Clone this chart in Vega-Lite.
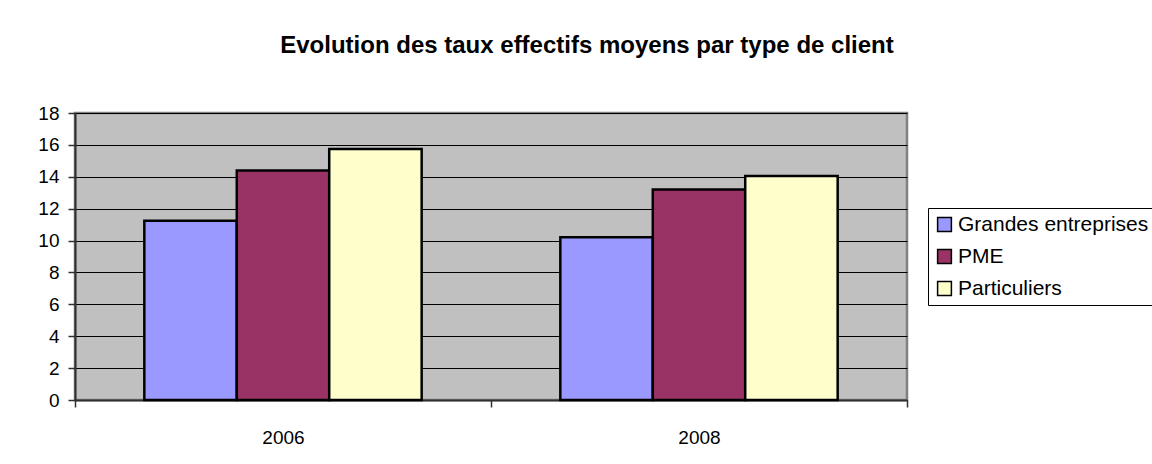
{
  "$schema": "https://vega.github.io/schema/vega-lite/v6.json",
  "width": 832,
  "height": 287,
  "autosize": {"type": "none"},
  "padding": {"left": 75, "top": 113, "right": 245, "bottom": 64},
  "background": "white",
  "title": {
    "text": "Evolution des taux effectifs moyens par type de client",
    "font": "Liberation Sans",
    "fontSize": 24,
    "fontWeight": "bold",
    "color": "#000000",
    "anchor": "middle",
    "frame": "group",
    "dx": 96,
    "offset": 46
  },
  "data": {
    "values": [
      {"annee": "2006", "type": "Grandes entreprises", "taux": 11.25},
      {"annee": "2006", "type": "PME", "taux": 14.4},
      {"annee": "2006", "type": "Particuliers", "taux": 15.75},
      {"annee": "2008", "type": "Grandes entreprises", "taux": 10.2},
      {"annee": "2008", "type": "PME", "taux": 13.2},
      {"annee": "2008", "type": "Particuliers", "taux": 14.05}
    ]
  },
  "mark": {"type": "bar", "stroke": "#000000", "strokeWidth": 2.5},
  "encoding": {
    "x": {
      "field": "annee",
      "type": "nominal",
      "scale": {"paddingInner": 0, "paddingOuter": 0},
      "axis": {
        "title": null,
        "labelAngle": 0,
        "tickBand": "extent",
        "tickSize": 7,
        "tickColor": "#303030",
        "tickWidth": 1.5,
        "labelPadding": 21,
        "labelFont": "Liberation Sans",
        "labelFontSize": 19,
        "labelColor": "#000000",
        "domainColor": "#303030",
        "domainWidth": 2
      }
    },
    "xOffset": {
      "field": "type",
      "type": "nominal",
      "sort": ["Grandes entreprises", "PME", "Particuliers"],
      "scale": {"paddingInner": 0, "paddingOuter": 0.75}
    },
    "y": {
      "field": "taux",
      "type": "quantitative",
      "scale": {"domain": [0, 18], "nice": false},
      "axis": {
        "title": null,
        "values": [0, 2, 4, 6, 8, 10, 12, 14, 16, 18],
        "grid": true,
        "gridColor": "#000000",
        "gridWidth": 1,
        "tickSize": 7,
        "tickColor": "#303030",
        "tickWidth": 1.5,
        "labelPadding": 9,
        "labelFont": "Liberation Sans",
        "labelFontSize": 19,
        "labelColor": "#000000",
        "domainColor": "#303030",
        "domainWidth": 2
      }
    },
    "color": {
      "field": "type",
      "type": "nominal",
      "sort": ["Grandes entreprises", "PME", "Particuliers"],
      "scale": {
        "domain": ["Grandes entreprises", "PME", "Particuliers"],
        "range": ["#9999FF", "#993366", "#FFFFCC"]
      },
      "legend": {
        "title": null,
        "orient": "none",
        "legendX": 853,
        "legendY": 95,
        "symbolType": "square",
        "symbolSize": 190,
        "symbolStrokeColor": "#000000",
        "symbolStrokeWidth": 1.5,
        "symbolOpacity": 1,
        "labelFont": "Liberation Sans",
        "labelFontSize": 21,
        "labelColor": "#000000",
        "labelOffset": 3,
        "rowPadding": 10,
        "padding": 6,
        "strokeColor": "#000000",
        "fillColor": "#FFFFFF",
        "labelLimit": 400
      }
    }
  },
  "config": {
    "view": {"fill": "#C0C0C0", "stroke": "#808080", "strokeWidth": 2.5}
  }
}
